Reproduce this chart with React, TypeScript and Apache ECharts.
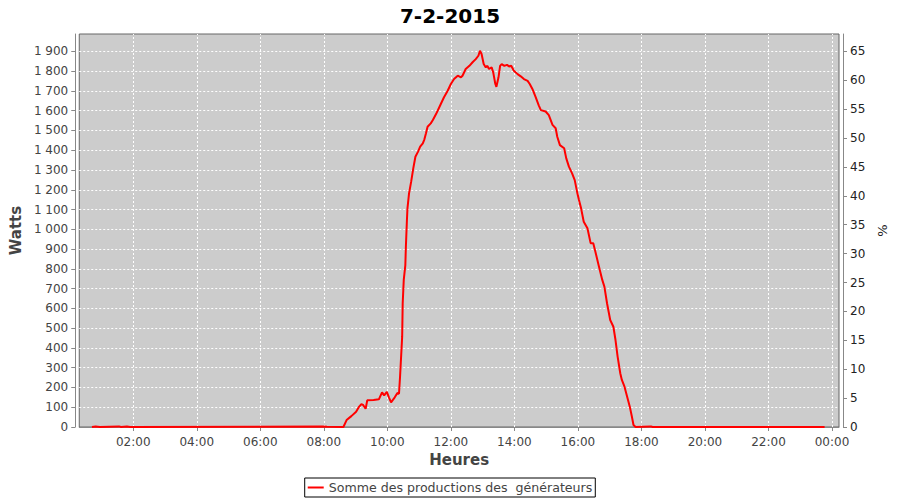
import React, { useEffect, useRef } from "react";
import * as echarts from "echarts";

const title = "7-2-2015";
const seriesName = "Somme des productions des  générateurs";

const times = [
  "00:42", "00:49", "00:57", "01:33", "01:37", "01:48", "01:54", "07:57", "08:06", "08:37",
  "08:43", "08:52", "09:01", "09:06", "09:11", "09:14", "09:19", "09:22", "09:34", "09:44",
  "09:50", "09:54", "09:59", "10:03", "10:07", "10:14", "10:19", "10:22", "10:24", "10:28",
  "10:29", "10:31", "10:34", "10:35", "10:37", "10:38", "10:41", "10:45", "10:49", "10:53",
  "10:58", "11:02", "11:07", "11:10", "11:13", "11:16", "11:22", "11:26", "11:32", "11:41",
  "11:47", "11:54", "12:00", "12:06", "12:13", "12:19", "12:22", "12:28", "12:35", "12:41",
  "12:47", "12:52", "12:55", "12:58", "13:02", "13:06", "13:09", "13:12", "13:17", "13:20",
  "13:24", "13:26", "13:30", "13:33", "13:36", "13:41", "13:46", "13:50", "13:54", "13:59",
  "14:06", "14:12", "14:18", "14:25", "14:29", "14:34", "14:40", "14:46", "14:50", "14:59",
  "15:05", "15:12", "15:18", "15:21", "15:26", "15:34", "15:38", "15:43", "15:49", "15:54",
  "15:59", "16:02", "16:06", "16:11", "16:18", "16:24", "16:29", "16:33", "16:39", "16:46",
  "16:50", "16:55", "17:01", "17:07", "17:11", "17:15", "17:20", "17:23", "17:28", "17:33",
  "17:38", "17:42", "17:45", "17:49", "18:18", "18:21", "23:46",
];

const watts = [
  0, 3, 0, 3, 0, 3, 0, 2, 1, 0,
  35, 55, 77, 100, 116, 112, 92, 135, 137, 140,
  175, 160, 178, 150, 125, 150, 172, 168, 254, 457,
  626, 744, 819, 912, 1047, 1106, 1182, 1241, 1308, 1367,
  1393, 1418, 1435, 1455, 1486, 1519, 1536, 1553, 1583, 1634,
  1668, 1701, 1735, 1760, 1777, 1769, 1777, 1811, 1827, 1845,
  1861, 1878, 1903, 1887, 1836, 1819, 1827, 1811, 1819, 1794,
  1735, 1721, 1769, 1827, 1836, 1827, 1832, 1824, 1827, 1802,
  1785, 1774, 1760, 1751, 1735, 1710, 1670, 1627, 1603, 1596,
  1578, 1528, 1511, 1468, 1426, 1410, 1359, 1317, 1283, 1249,
  1182, 1148, 1106, 1038, 1005, 930, 929, 887, 819, 744,
  710, 626, 541, 507, 440, 356, 272, 238, 204, 153,
  103, 52, 10, 0, 3, 0, 0,
];

const hourTicks = [2, 4, 6, 8, 10, 12, 14, 16, 18, 20, 22, 24];

const toHours = (t: string) => {
  const [h, m] = t.split(":").map(Number);
  return h + m / 60;
};

const fmtThousands = (v: number) => {
  const s = String(Math.round(v));
  return s.replace(/\B(?=(\d{3})+(?!\d))/g, " ");
};

const FONT = "DejaVu Sans";

export default function App() {
  const ref = useRef<HTMLDivElement>(null);
  useEffect(() => {
    if (!ref.current) return;
    const chart = echarts.init(ref.current, undefined, { renderer: "svg" });
    const data = times.map((t, i) => [toHours(t), watts[i]]);
    chart.setOption({
      animation: false,
      backgroundColor: "#ffffff",
      textStyle: { fontFamily: FONT },
      title: {
        text: title,
        left: "center",
        top: 1,
        textStyle: { fontFamily: FONT, fontSize: 20, fontWeight: "bold", color: "#000" },
      },
      legend: {
        left: "center",
        bottom: 3,
        borderColor: "#000",
        borderWidth: 1,
        padding: [3, 3],
        itemWidth: 16,
        itemHeight: 2,
        itemGap: 5,
        data: [{ name: seriesName, icon: "rect" }],
        textStyle: { fontFamily: FONT, fontSize: 12.6, color: "#444" },
      },
      grid: {
        left: 77,
        right: 61,
        top: 34,
        bottom: 73,
        show: true,
        backgroundColor: "#cccccc",
        borderColor: "#666",
        borderWidth: 1,
        containLabel: false,
      },
      xAxis: {
        type: "value",
        min: 0.3,
        max: 24.22,
        offset: 4,
        name: "Heures",
        nameLocation: "middle",
        nameGap: 21,
        nameTextStyle: { fontFamily: FONT, fontSize: 15, fontWeight: "bold", color: "#444" },
        axisLine: { show: true, lineStyle: { color: "#888", width: 1 } },
        axisTick: { show: true, length: 4, lineStyle: { color: "#888" }, customValues: hourTicks },
        axisLabel: {
          customValues: hourTicks,
          margin: 5,
          fontFamily: FONT,
          fontSize: 12,
          color: "#444",
          formatter: (v: number) => {
            const h = Math.round(v) % 24;
            return String(h).padStart(2, "0") + ":00";
          },
        },
        splitLine: { show: false },
      },
      yAxis: [
        {
          type: "value",
          min: 0,
          max: 1988,
          interval: 100,
          position: "left",
          offset: 4,
          name: "Watts",
          nameLocation: "middle",
          nameRotate: 90,
          nameGap: 43,
          nameTextStyle: { fontFamily: FONT, fontSize: 15, fontWeight: "bold", color: "#444" },
          axisLine: { show: true, lineStyle: { color: "#888", width: 1 } },
          axisTick: { show: true, length: 4, lineStyle: { color: "#888" } },
          axisLabel: {
            margin: 7,
            fontFamily: FONT,
            fontSize: 12,
            color: "#444",
            showMaxLabel: false,
            formatter: (v: number) => (v % 100 === 0 ? fmtThousands(v) : ""),
          },
          splitLine: {
            show: true,
            showMinLine: false,
            showMaxLine: false,
            lineStyle: { color: "#ffffff", type: [2, 2], width: 1 },
          },
        },
        {
          type: "value",
          min: 0,
          max: 68.0,
          interval: 5,
          position: "right",
          offset: 4,
          name: "%",
          nameLocation: "middle",
          nameRotate: 90,
          nameGap: 28,
          nameTextStyle: { fontFamily: FONT, fontSize: 13, color: "#222" },
          axisLine: { show: true, lineStyle: { color: "#888", width: 1 } },
          axisTick: { show: true, length: 4, lineStyle: { color: "#888" } },
          axisLabel: {
            margin: 7,
            fontFamily: FONT,
            fontSize: 12,
            color: "#222",
            showMaxLabel: false,
            formatter: (v: number) => (v % 5 === 0 ? String(v) : ""),
          },
          splitLine: { show: false },
        },
      ],
      series: [
        {
          name: seriesName,
          type: "line",
          xAxisIndex: 0,
          yAxisIndex: 0,
          data,
          showSymbol: false,
          symbol: "none",
          clip: true,
          z: 3,
          itemStyle: { color: "#ff0000" },
          lineStyle: { color: "#ff0000", width: 2 },
          markLine: {
            silent: true,
            symbol: "none",
            label: { show: false },
            z: 1,
            lineStyle: { color: "#ffffff", type: [2, 2], width: 1 },
            emphasis: { disabled: true },
            data: hourTicks.filter((h) => h < 24.22).map((h) => ({ xAxis: h })),
          },
        },
      ],
    });
    return () => chart.dispose();
  }, []);
  return (
    <div
      ref={ref}
      style={{ position: "fixed", left: 0, top: 0, width: 900, height: 500 }}
    />
  );
}
